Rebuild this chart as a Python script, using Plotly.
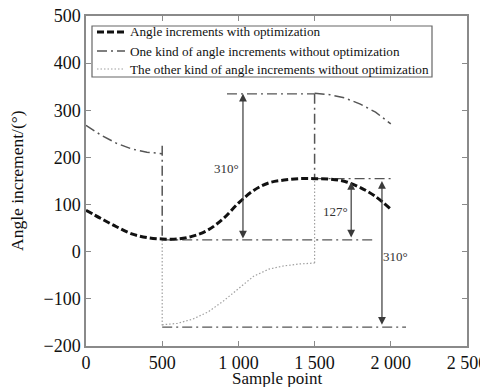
import plotly.graph_objects as go

# ---- data ----
opt_x = [0, 100, 200, 300, 400, 500, 600, 700, 800, 900, 1000, 1100, 1200, 1300, 1400, 1500, 1600, 1700, 1800, 1900, 2000]
opt_y = [88, 70, 53, 38, 30, 27, 27, 33, 46, 70, 103, 130, 146, 152, 155, 155, 154, 149, 136, 117, 90]

one_a_x = [0, 100, 200, 300, 400, 500]
one_a_y = [268, 247, 230, 218, 211, 208]
one_b_x = [1500, 1600, 1700, 1800, 1900, 2000]
one_b_y = [336, 333, 326, 313, 296, 271]
one_jump1 = [225, 25]      # vertical at x=500
one_jump2 = [335, 155]     # vertical at x=1500

other_x = [500, 600, 700, 800, 900, 1000, 1100, 1200, 1300, 1400, 1500]
other_y = [-155, -152, -143, -128, -105, -79, -52, -37, -30, -26, -24]
other_jump1 = [25, -160]   # vertical at x=500
other_jump2 = [-24, 155]   # vertical at x=1500

# reference levels (y, x_start, x_end)
ref_levels = [335, 155, 25, -160]
ref_starts = [925, 1500, 500, 500]
ref_ends = [1500, 2000, 1880, 2100]

# double arrows (x, y_low, y_high) and labels
arrow_x = [1030, 1740, 1942]
arrow_lo = [25, 27, -158]
arrow_hi = [335, 148, 150]
label_text = ["310°", "127°", "310°"]
label_x = [925, 1634, 2030]
label_y = [177, 86, -11]

x_ticks = [0, 500, 1000, 1500, 2000, 2500]
x_ticktext = ["0", "500", "1 000", "1 500", "2 000", "2 500"]
y_ticks = [-200, -100, 0, 100, 200, 300, 400, 500]

legend_names = ["Angle increments with optimization",
                "One kind of angle increments without optimization",
                "The other kind of angle increments without optimization"]

SERIF = "Liberation Serif, Times New Roman, serif"
DD = "10px,4px,2px,4px"
DD_COLOR = "#555555"
DOT_COLOR = "#a0a0a0"

fig = go.Figure()

# reference dash-dot levels
for lv, xs, xe in zip(ref_levels, ref_starts, ref_ends):
    fig.add_trace(go.Scatter(x=[xs, xe], y=[lv, lv], mode="lines", showlegend=False,
                             line=dict(color=DD_COLOR, width=1.3, dash=DD), hoverinfo="skip"))

# other kind (dotted)
other_line = dict(color=DOT_COLOR, width=1.2, dash="1.5px,2px")
fig.add_trace(go.Scatter(
    x=[500, 500, None] + other_x + [None, 1500, 1500],
    y=other_jump1 + [None] + other_y + [None] + other_jump2,
    mode="lines", name=legend_names[2], showlegend=False, line=other_line))

# one kind (dash-dot)
one_line = dict(color=DD_COLOR, width=1.5, dash=DD)
fig.add_trace(go.Scatter(
    x=one_a_x + [None, 500, 500, None, 1500, 1500, None] + one_b_x,
    y=one_a_y + [None] + one_jump1 + [None] + one_jump2 + [None] + one_b_y,
    mode="lines", name=legend_names[1], showlegend=False, line=one_line))

# optimized (thick dashed)
opt_line = dict(color="#111111", width=3, dash="7px,3px")
fig.add_trace(go.Scatter(x=opt_x, y=opt_y, mode="lines", name=legend_names[0], showlegend=False,
                         line=dict(shape="spline", **opt_line)))

for ax_, lo, hi in zip(arrow_x, arrow_lo, arrow_hi):
    fig.add_annotation(x=ax_, y=hi, ax=ax_, ay=lo, xref="x", yref="y", axref="x", ayref="y",
                       showarrow=True, arrowhead=2, arrowside="end+start", arrowsize=1.3,
                       arrowwidth=1.2, arrowcolor="#3a3a3a", text="")

for t, lx, ly in zip(label_text, label_x, label_y):
    fig.add_annotation(x=lx, y=ly, xref="x", yref="y", text=t, showarrow=False,
                       font=dict(family=SERIF, size=13, color="#333333"))

# ---- legend box (drawn by hand to match the compact boxed legend) ----
fig.add_shape(type="rect", xref="paper", yref="paper",
              x0=6 / 381, x1=346 / 381, y0=1 - 61 / 330, y1=1 - 10 / 330,
              line=dict(color="#666666", width=1.2), fillcolor="white", layer="above")
leg_rows_px = [16, 35, 53]          # row centres, px below plot top
leg_styles = [opt_line, one_line, other_line]
for name, row, st in zip(legend_names, leg_rows_px, leg_styles):
    yp = 1 - row / 330
    fig.add_shape(type="line", xref="paper", yref="paper",
                  x0=11 / 381, x1=39 / 381, y0=yp, y1=yp, layer="above",
                  line=dict(color=st["color"], width=st["width"], dash=st["dash"]))
    fig.add_annotation(x=42 / 381, y=yp, xref="paper", yref="paper", text=name,
                       showarrow=False, xanchor="left", yanchor="middle",
                       font=dict(family=SERIF, size=13.2, color="#111111"))

# axis titles
fig.add_annotation(x=0.5, y=-32 / 330, xref="paper", yref="paper", text="Sample point",
                   showarrow=False, xanchor="center", yanchor="middle", borderpad=0,
                   font=dict(family=SERIF, size=17, color="#111111"))
fig.add_annotation(x=-69 / 381, y=0.5, xref="paper", yref="paper", text="Angle increment/(°)",
                   showarrow=False, xanchor="center", yanchor="middle", textangle=-90,
                   font=dict(family=SERIF, size=17.5, color="#111111"))

axis_common = dict(showline=True, linecolor="#8a8a8a", linewidth=1.5, mirror="ticks",
                   ticks="inside", ticklen=5, tickcolor="#8a8a8a", showgrid=False, zeroline=False,
                   automargin=False, ticklabeloverflow="allow",
                   tickfont=dict(family=SERIF, size=18, color="#111111"))

# page body adds an 8px offset, so margins are reduced on the top/left by 8px
fig.update_layout(
    width=488, height=387,
    margin=dict(l=78, r=29, t=8, b=49),
    paper_bgcolor="white", plot_bgcolor="white",
    font=dict(family=SERIF, color="#111111"),
    xaxis=dict(range=[0, 2500], tickvals=x_ticks, ticktext=x_ticktext, **axis_common),
    yaxis=dict(range=[-200, 500], tickvals=y_ticks, **axis_common),
    showlegend=False,
)

fig.write_html("out.html")
